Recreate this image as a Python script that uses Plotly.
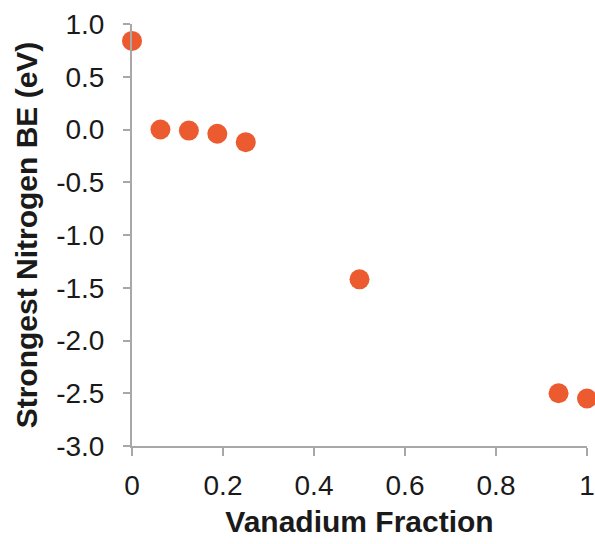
import plotly.graph_objects as go

vanadium_fraction = [0.0, 0.0625, 0.125, 0.1875, 0.25, 0.5, 0.9375, 1.0]
nitrogen_be = [0.84, 0.0, -0.01, -0.04, -0.12, -1.42, -2.50, -2.55]

y_tick_vals = [1.0, 0.5, 0.0, -0.5, -1.0, -1.5, -2.0, -2.5, -3.0]
y_tick_text = [f"{v:.1f}".replace("\u2212", "-") for v in y_tick_vals]
x_tick_vals = [0, 0.2, 0.4, 0.6, 0.8, 1.0]
x_tick_text = ["0", "0.2", "0.4", "0.6", "0.8", "1"]

fig = go.Figure()
fig.add_trace(go.Scatter(
    x=vanadium_fraction, y=nitrogen_be, mode="markers",
    marker=dict(size=20, color="#EC5A30", line=dict(width=0)),
    cliponaxis=False, showlegend=False,
))

FONT = "Liberation Sans, Arial, sans-serif"
axis_font = dict(family=FONT, size=28, color="#1a1a1a")

fig.update_layout(
    width=595, height=544,
    margin=dict(l=132, r=8, t=24, b=98),
    plot_bgcolor="white", paper_bgcolor="white",
    xaxis=dict(
        range=[0, 1], tickvals=x_tick_vals, ticktext=x_tick_text,
        showgrid=False, zeroline=False, showline=True, linecolor="#a8a8a8", linewidth=2,
        ticks="outside", ticklen=8, tickwidth=2, tickcolor="#a8a8a8",
        tickfont=axis_font, ticklabelstandoff=5,
        title=dict(text="<b>Vanadium Fraction</b>", font=dict(family=FONT, size=30, color="#1a1a1a"), standoff=11),
        automargin=False,
    ),
    yaxis=dict(
        range=[-3, 1], tickvals=y_tick_vals, ticktext=y_tick_text,
        showgrid=False, zeroline=False, showline=True, linecolor="#a8a8a8", linewidth=2,
        ticks="outside", ticklen=7, tickwidth=2, tickcolor="#a8a8a8",
        tickfont=axis_font, ticklabelstandoff=13,
        title=dict(text="<b>Strongest Nitrogen BE (eV)</b>", font=dict(family=FONT, size=30, color="#1a1a1a"), standoff=10),
        automargin=False,
    ),
)

fig.write_html("out.html")
